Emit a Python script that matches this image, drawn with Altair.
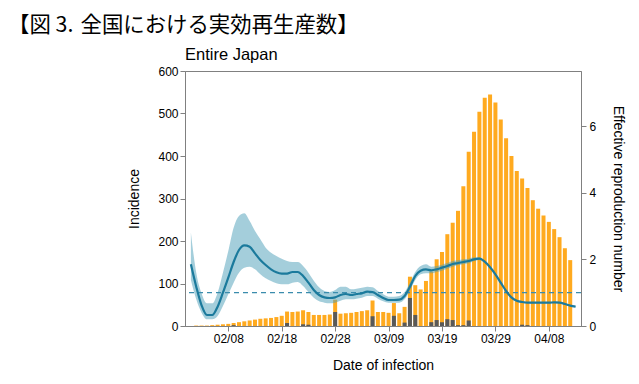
import altair as alt
import pandas as pd

heading = "【図 3.\u2004全国における実効再生産数】"
panel_title = "Entire Japan"
x_title = "Date of infection"
left_title = "Incidence"
right_title = "Effective reproduction number"

# daily bars, starting 2020-02-01
bar_start = "2020-02-01"
incidence = [0, 1, 1, 1, 2, 3, 4, 5, 7, 9,
             11, 13, 15, 17, 18, 19, 21, 24, 34, 33,
             34, 37, 33, 26, 26, 26, 27, 62, 29, 30,
             31, 33, 35, 37, 60, 33, 33, 31, 54, 30,
             45, 116, 96, 86, 106, 128, 157, 174, 216, 243,
             271, 329, 410, 457, 504, 537, 545, 526, 486, 442,
             400, 365, 347, 325, 296, 276, 260, 245, 228, 209,
             183, 155]
imported = [0, 0, 0, 0, 0, 0, 0, 0, 2, 0,
            0, 0, 0, 0, 0, 0, 0, 0, 7, 0,
            0, 4, 3, 0, 0, 0, 0, 33, 0, 0,
            0, 0, 0, 0, 23, 0, 0, 0, 24, 0,
            8, 66, 26, 0, 0, 9, 14, 9, 16, 14,
            2, 2, 13, 0, 0, 0, 0, 0, 0, 0,
            0, 0, 3, 2, 0, 0, 0, 0, 0, 0,
            0, 0]

# daily effective reproduction number, starting 2020-02-01
rt_mean = [1.85, 1.18, 0.62, 0.33, 0.33, 0.58, 1.00, 1.45, 1.92, 2.28,
           2.42, 2.38, 2.18, 1.98, 1.83, 1.70, 1.61, 1.57, 1.57, 1.62,
           1.62, 1.50, 1.30, 1.08, 0.93, 0.86, 0.84, 0.86, 0.93, 0.96,
           0.93, 0.96, 0.98, 1.03, 1.02, 0.93, 0.84, 0.78, 0.78, 0.79,
           0.90, 1.18, 1.50, 1.66, 1.70, 1.67, 1.70, 1.75, 1.80, 1.86,
           1.89, 1.92, 1.95, 2.00, 2.02, 1.93, 1.76, 1.55, 1.30, 1.05,
           0.86, 0.76, 0.72, 0.70, 0.70, 0.70, 0.70, 0.70, 0.71, 0.70,
           0.66, 0.61, 0.58]
rt_upper = [2.80, 1.60, 0.98, 0.68, 0.68, 1.00, 1.60, 2.25, 2.95, 3.30,
            3.38, 3.15, 2.85, 2.60, 2.35, 2.20, 2.10, 2.02, 1.95, 1.92,
            1.92, 1.80, 1.60, 1.36, 1.16, 1.05, 1.02, 1.08, 1.18, 1.18,
            1.10, 1.12, 1.15, 1.18, 1.16, 1.05, 0.95, 0.88, 0.88, 0.90,
            1.02, 1.30, 1.62, 1.80, 1.85, 1.78, 1.80, 1.84, 1.89, 1.95,
            1.97, 2.00, 2.02, 2.06, 2.06, 1.95, 1.78, 1.57, 1.32, 1.07,
            0.88, 0.78, 0.74, 0.72, 0.72, 0.72, 0.72, 0.72, 0.73, 0.72,
            0.68, 0.63, 0.60]
rt_lower = [1.38, 0.80, 0.40, 0.20, 0.20, 0.30, 0.60, 0.95, 1.30, 1.60,
            1.75, 1.78, 1.70, 1.55, 1.43, 1.35, 1.28, 1.25, 1.25, 1.30,
            1.32, 1.20, 1.02, 0.85, 0.74, 0.70, 0.68, 0.70, 0.76, 0.80,
            0.80, 0.82, 0.85, 0.90, 0.90, 0.82, 0.74, 0.70, 0.70, 0.70,
            0.80, 1.06, 1.38, 1.55, 1.58, 1.58, 1.62, 1.66, 1.72, 1.78,
            1.82, 1.85, 1.88, 1.95, 1.98, 1.91, 1.74, 1.53, 1.28, 1.03,
            0.84, 0.74, 0.70, 0.68, 0.68, 0.68, 0.68, 0.68, 0.69, 0.68,
            0.64, 0.59, 0.56]

tick_dates = [(2, 8), (2, 18), (2, 28), (3, 9), (3, 19), (3, 29), (4, 8)]
left_ticks = [0, 100, 200, 300, 400, 500, 600]
right_ticks = [0, 2, 4, 6]

bars_df = pd.DataFrame({
    "date": pd.date_range(bar_start, periods=len(incidence), freq="D"),
    "total": incidence,
    "imported": imported,
})
rt_df = pd.DataFrame({
    "date": pd.date_range(bar_start, periods=len(rt_mean), freq="D"),
    "rt": rt_mean,
    "lo": rt_lower,
    "hi": rt_upper,
})

FONT = "Liberation Sans"
AX = "#808080"

xscale = alt.Scale(domain=[alt.DateTime(year=2020, month=1, date=31, hours=20),
                           alt.DateTime(year=2020, month=4, date=13, hours=2)])
xaxis = alt.Axis(values=[alt.DateTime(year=2020, month=m, date=d) for m, d in tick_dates],
                 format="%m/%d", title=x_title, titlePadding=14, labelPadding=2,
                 labelFlush=False)
left_axis = alt.Axis(values=left_ticks, title=left_title, titlePadding=16, labelPadding=2)
right_axis = alt.Axis(values=right_ticks, title=right_title, orient="right",
                      titlePadding=15, titleAngle=90, labelPadding=3)

inc_scale = alt.Scale(domain=[0, 600], nice=False, zero=True)
rt_scale = alt.Scale(domain=[0, 7.65], nice=False, zero=True)

orange = alt.Chart(bars_df).mark_bar(color="#FFAA1F", size=4).encode(
    x=alt.X("date:T", scale=xscale, axis=xaxis),
    y=alt.Y("total:Q", scale=inc_scale, axis=left_axis),
)
gray = alt.Chart(bars_df).transform_filter("datum.imported > 0").mark_bar(
    color="#595959", size=4).encode(
    x=alt.X("date:T"),
    y=alt.Y("imported:Q"),
)
bar_layer = alt.layer(orange, gray)

ribbon = alt.Chart(rt_df).mark_area(color="#4A9DB8", opacity=0.5, clip=True,
                                    interpolate="monotone").encode(
    x=alt.X("date:T"),
    y=alt.Y("lo:Q", scale=rt_scale, axis=right_axis),
    y2="hi:Q",
)
rule = alt.Chart(pd.DataFrame({"r": [1.0]})).mark_rule(
    color="#3A8CAD", strokeDash=[5, 4], strokeWidth=1.3).encode(y="r:Q")
line = alt.Chart(rt_df).mark_line(color="#1B7A9C", strokeWidth=2.2, clip=True,
                                  interpolate="monotone").encode(
    x=alt.X("date:T"),
    y=alt.Y("rt:Q"),
)
rt_layer = alt.layer(ribbon, rule, line)

head = alt.Chart(pd.DataFrame({"t": [heading]})).mark_text(
    align="left", baseline="middle", font="Noto Sans CJK JP", fontSize=21.4,
    color="black").encode(text="t:N", x=alt.value(-177), y=alt.value(-45.5))
sub = alt.Chart(pd.DataFrame({"t": [panel_title]})).mark_text(
    align="left", baseline="alphabetic", font=FONT, fontSize=16.5,
    color="black").encode(text="t:N", x=alt.value(0), y=alt.value(-11))

chart = alt.layer(bar_layer, rt_layer, head, sub).resolve_scale(
    y="independent"
).properties(
    width=396, height=255, autosize="none",
    padding={"left": 177, "top": 63, "right": 50, "bottom": 52},
).configure_axis(
    labelFont=FONT, labelFontSize=12, labelColor="black",
    titleFont=FONT, titleFontSize=14, titleFontWeight="normal", titleColor="black",
    domainColor=AX, tickColor=AX, tickSize=5, grid=False,
).configure_view(stroke=AX, strokeWidth=1)

chart.save("out.html", embed_options={"renderer": "svg", "actions": False})
